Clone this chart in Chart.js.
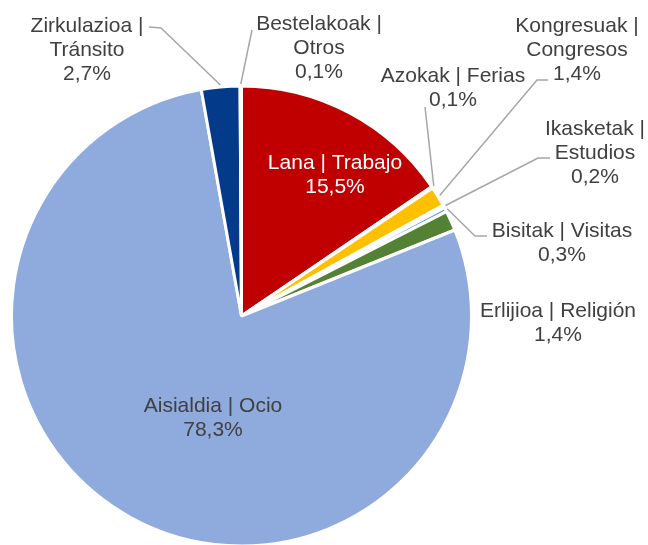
<!DOCTYPE html>
<html>
<head>
<meta charset="utf-8">
<script src="https://cdn.jsdelivr.net/npm/chart.js@4"></script>
<style>
  html, body { margin: 0; padding: 0; background: #fff; overflow: hidden; }
  #wrap { width: 648px; height: 545px; }
</style>
</head>
<body>
<div id="wrap"><canvas id="pieChart" width="648" height="545"></canvas></div>
<script>
// =====================
// Data
// =====================
const categories = [
    "Lana | Trabajo",
    "Azokak | Ferias",
    "Kongresuak | Congresos",
    "Ikasketak | Estudios",
    "Bisitak | Visitas",
    "Erlijioa | Religión",
    "Aisialdia | Ocio",
    "Zirkulazioa | Tránsito",
    "Bestelakoak | Otros"
];
const shares = [15.5, 0.1, 1.4, 0.2, 0.3, 1.4, 78.3, 2.7, 0.1];
const sliceColors = ["#C00000", "#A5A5A5", "#FFC000", "#ED7D31", "#5B9BD5", "#548235", "#8FAADC", "#033A8A", "#7F7F7F"];

// =====================
// Label placement (text centre x, first baseline y, wrap, leader start points)
// =====================
const labelLayout = [
    { x: 335, y: 169, wrap: false, color: "#FFFFFF", leader: null },
    { x: 453, y: 82, wrap: false, color: "#404040", leader: [[425, 107]] },
    { x: 577, y: 32, wrap: true, color: "#404040", leader: [[548, 80], [537, 80]] },
    { x: 595, y: 135, wrap: true, color: "#404040", leader: [[550, 158], [538, 158]] },
    { x: 562, y: 237, wrap: false, color: "#404040", leader: [[487, 236], [475, 236]] },
    { x: 558, y: 317, wrap: false, color: "#404040", leader: null },
    { x: 213, y: 412, wrap: false, color: "#404040", leader: null },
    { x: 87, y: 32, wrap: true, color: "#404040", leader: [[149, 27], [161, 28]] },
    { x: 319, y: 30, wrap: true, color: "#404040", leader: [[252, 30]] }
];

function formatShare(v) {
    return v.toFixed(1).replace(".", ",") + "%";
}

function labelLines(name, wrap) {
    if (!wrap) return [name];
    const parts = name.split(" | ");
    return [parts[0] + " |", parts[1]];
}

// =====================
// Labels plugin
// =====================
const pieLabels = {
    id: "pieLabels",
    afterDatasetsDraw(chart) {
        const ctx = chart.ctx;
        const meta = chart.getDatasetMeta(0);
        ctx.save();
        ctx.font = "21px 'Liberation Sans', Arial, sans-serif";
        ctx.textAlign = "center";
        ctx.textBaseline = "alphabetic";

        labelLayout.forEach((lay, i) => {
            const arc = meta.data[i];
            if (lay.leader) {
                const mid = (arc.startAngle + arc.endAngle) / 2;
                const r = arc.outerRadius + 2;
                ctx.strokeStyle = "#A6A6A6";
                ctx.lineWidth = 1.5;
                ctx.beginPath();
                ctx.moveTo(lay.leader[0][0], lay.leader[0][1]);
                lay.leader.slice(1).forEach(p => ctx.lineTo(p[0], p[1]));
                ctx.lineTo(arc.x + Math.cos(mid) * r, arc.y + Math.sin(mid) * r);
                ctx.stroke();
            }
            const lines = labelLines(categories[i], lay.wrap);
            lines.push(formatShare(shares[i]));
            ctx.fillStyle = lay.color;
            lines.forEach((t, k) => ctx.fillText(t, lay.x, lay.y + k * 24));
        });
        ctx.restore();
    }
};

// =====================
// Render Chart
// =====================
const ctx = document.getElementById("pieChart").getContext("2d");
new Chart(ctx, {
    type: "pie",
    data: {
        labels: categories,
        datasets: [{
            data: shares,
            backgroundColor: sliceColors,
            borderColor: "#FFFFFF",
            borderWidth: 3
        }]
    },
    options: {
        responsive: false,
        animation: false,
        radius: 230,
        layout: { padding: { left: 0, right: 165, top: 87, bottom: 0 } },
        plugins: { legend: { display: false }, tooltip: { enabled: false } }
    },
    plugins: [pieLabels]
});
</script>
</body>
</html>
